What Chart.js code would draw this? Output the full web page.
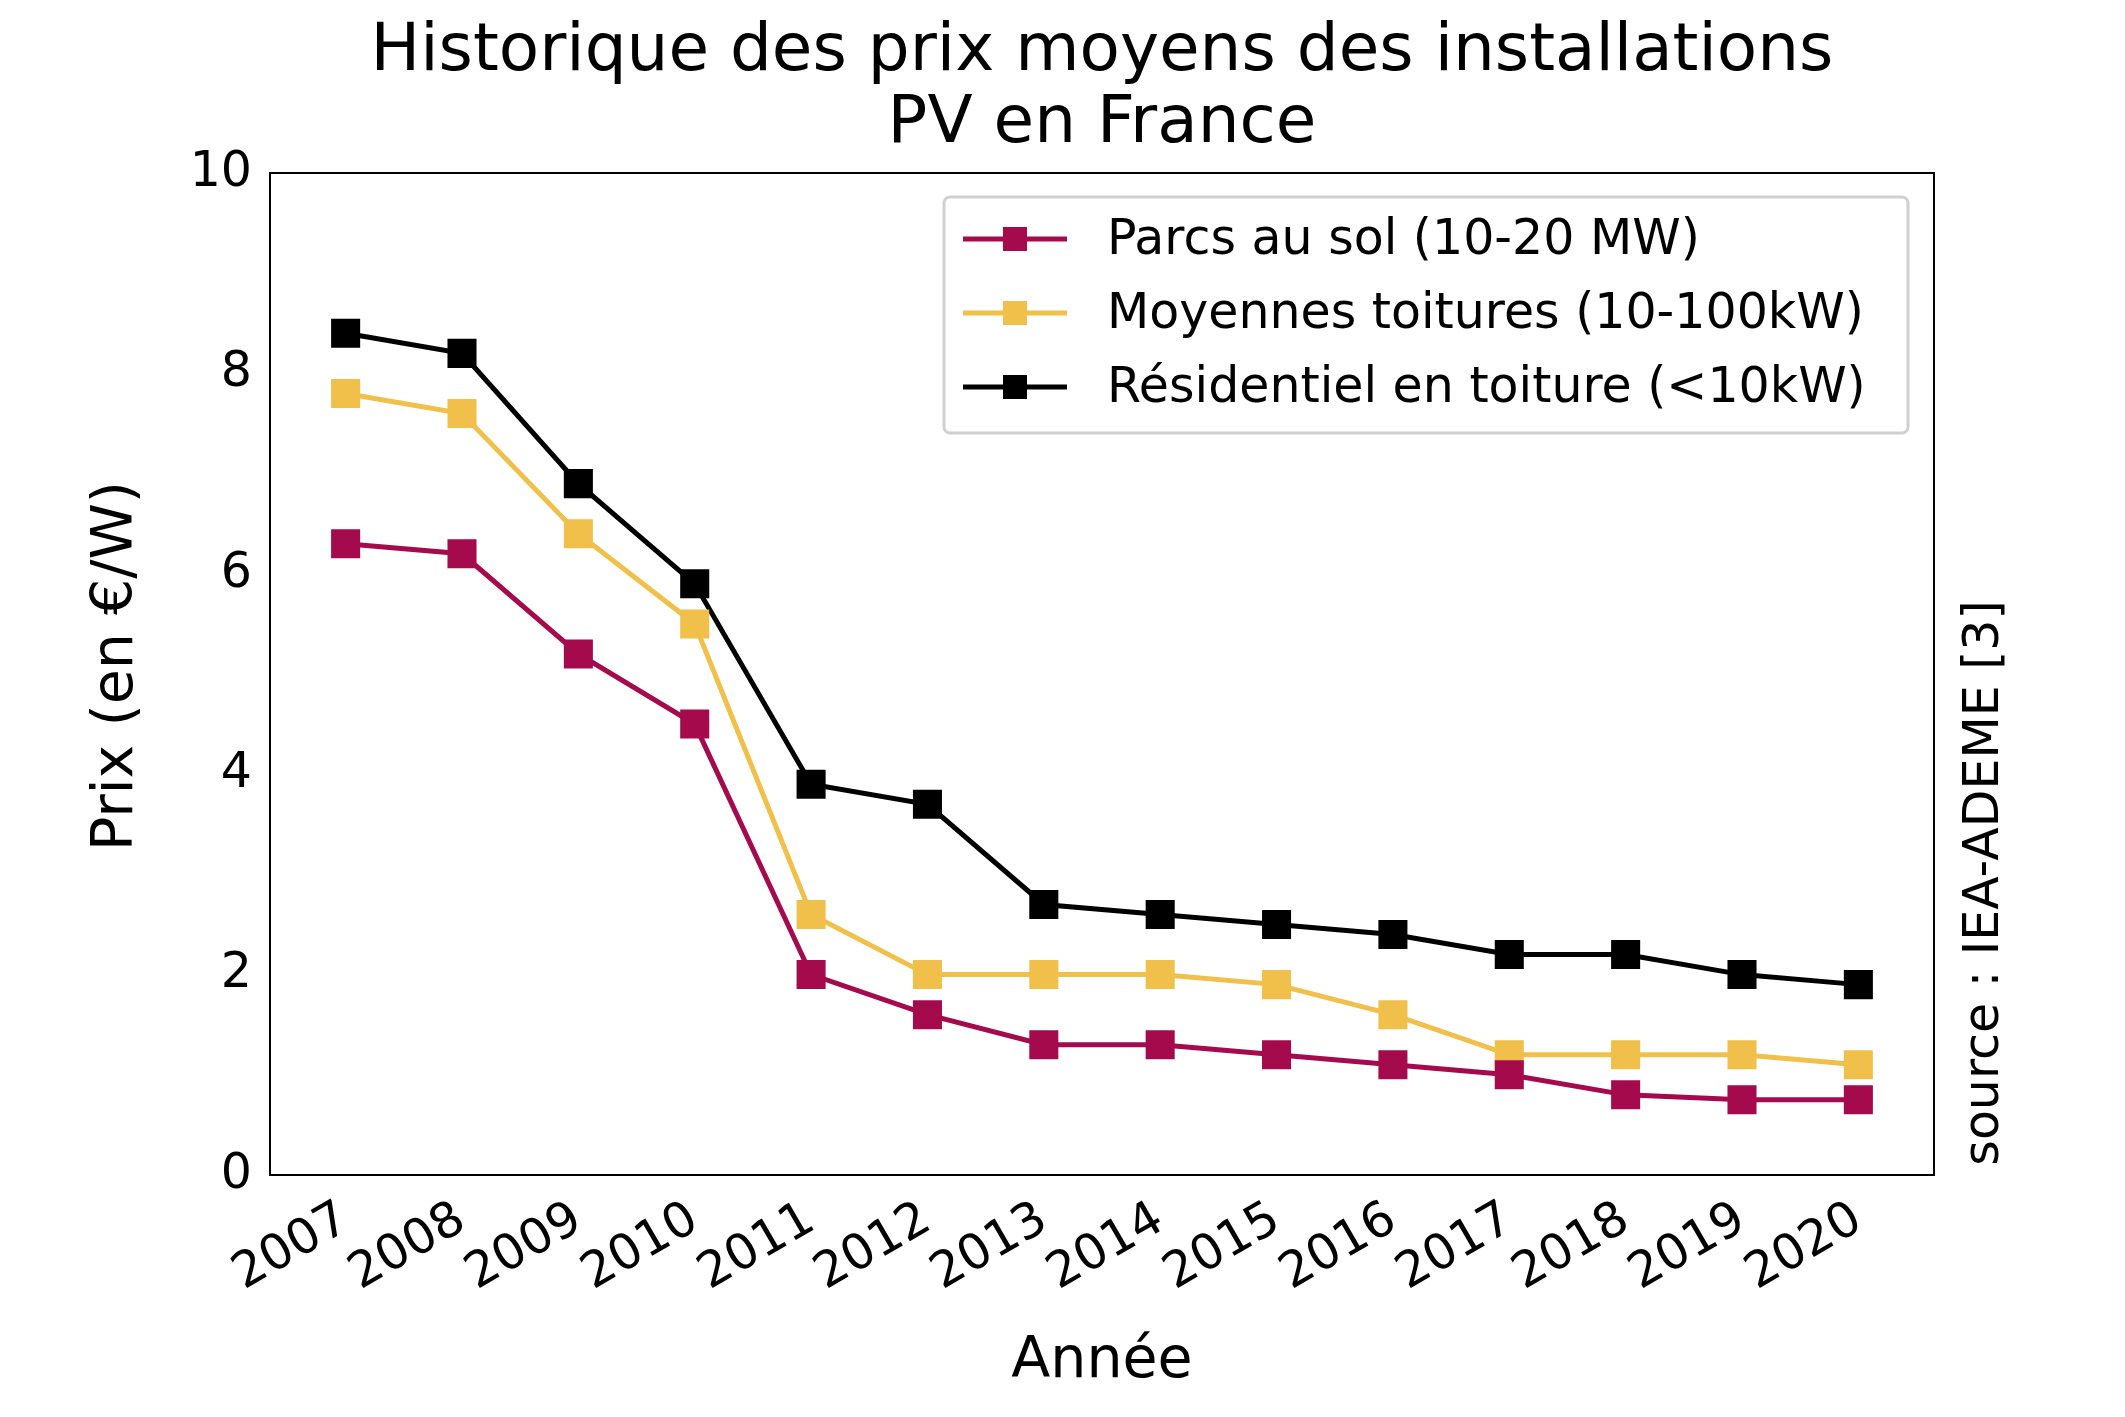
<!DOCTYPE html>
<html><head><meta charset="utf-8">
<script src="https://cdn.jsdelivr.net/npm/chart.js@4"></script>
<style>html,body{margin:0;padding:0;background:#fff}#w{width:2125px;height:1417px}</style>
</head><body><div id="w"><canvas id="c"></canvas></div>
<script>
const years = [2007,2008,2009,2010,2011,2012,2013,2014,2015,2016,2017,2018,2019,2020];
const parcs = [6.3,6.2,5.2,4.5,2.0,1.6,1.3,1.3,1.2,1.1,1.0,0.8,0.75,0.75];
const moyennes = [7.8,7.6,6.4,5.5,2.6,2.0,2.0,2.0,1.9,1.6,1.2,1.2,1.2,1.1];
const residentiel = [8.4,8.2,6.9,5.9,3.9,3.7,2.7,2.6,2.5,2.4,2.2,2.2,2.0,1.9];
const seriesNames = ['Parcs au sol (10-20 MW)','Moyennes toitures (10-100kW)','Résidentiel en toiture (<10kW)'];
const colors = ['#A50A4D','#F0C04A','#000000'];
const yTicks = [0,2,4,6,8,10];
const F = 'DejaVu Sans';
const mk = (vals,i)=>({label:seriesNames[i],data:years.map((y,k)=>({x:y,y:vals[k]})),borderColor:colors[i],backgroundColor:colors[i],borderWidth:5,pointStyle:'rect',pointRadius:17,pointHoverRadius:17,tension:0});
const deco = {id:'deco',afterDraw(ch){
  const c=ch.ctx,a=ch.chartArea;
  c.save();c.strokeStyle='#000';c.lineWidth=2;c.strokeRect(a.left,a.top,a.right-a.left,a.bottom-a.top);
  c.fillStyle='#000';c.textAlign='center';c.textBaseline='middle';
  c.font='66px "'+F+'"';
  c.fillText('Historique des prix moyens des installations',1102,53);
  c.fillText('PV en France',1102,125);
  c.font='57px "'+F+'"';
  c.fillText('Année',1102,1362);
  c.save();c.translate(117,666);c.rotate(-Math.PI/2);c.fillText('Prix (en €/W)',0,0);c.restore();
  c.font='49px "'+F+'"';
  c.save();c.translate(1985,883);c.rotate(-Math.PI/2);c.fillText('source : IEA-ADEME [3]',0,0);c.restore();
  // legend
  c.fillStyle='rgba(255,255,255,0.8)';c.strokeStyle='#d0d0d0';c.lineWidth=3;
  c.beginPath();c.roundRect(944,197,964,236,6);c.fill();c.stroke();
  c.font='49px "'+F+'"';c.textAlign='left';
  [239,313,387].forEach((y,i)=>{
    c.strokeStyle=colors[i];c.lineWidth=5;c.beginPath();c.moveTo(963,y);c.lineTo(1067,y);c.stroke();
    c.fillStyle=colors[i];c.fillRect(1003,y-12,24,24);
    c.fillStyle='#000';c.fillText(seriesNames[i],1107,y+2);
  });
  c.restore();
}};
new Chart(document.getElementById('c'),{
  type:'line',
  data:{datasets:[mk(parcs,0),mk(moyennes,1),mk(residentiel,2)]},
  options:{responsive:true,maintainAspectRatio:false,animation:false,devicePixelRatio:1,
    layout:{padding:{top:173,right:191,left:0,bottom:0}},
    plugins:{legend:{display:false},tooltip:{enabled:false}},
    scales:{
      x:{type:'linear',min:2006.35,max:2020.65,grid:{display:false,drawTicks:true,tickLength:12,tickColor:'#000',tickWidth:2},border:{color:'#000',width:2},
        afterBuildTicks(s){s.ticks=years.map(v=>({value:v}));},
        afterFit(s){s.height=1417-1175;},
        ticks:{color:'#000',font:{family:F,size:49},minRotation:30,maxRotation:30,padding:4,callback:v=>String(v)}},
      y:{min:0,max:10,grid:{display:false,drawTicks:true,tickLength:12,tickColor:'#000',tickWidth:2},border:{color:'#000',width:2},
        afterBuildTicks(s){s.ticks=yTicks.map(v=>({value:v}));},
        afterFit(s){s.width=270;},
        ticks:{color:'#000',font:{family:F,size:49},padding:6}}
    }},
  plugins:[deco]
});
</script></body></html>
